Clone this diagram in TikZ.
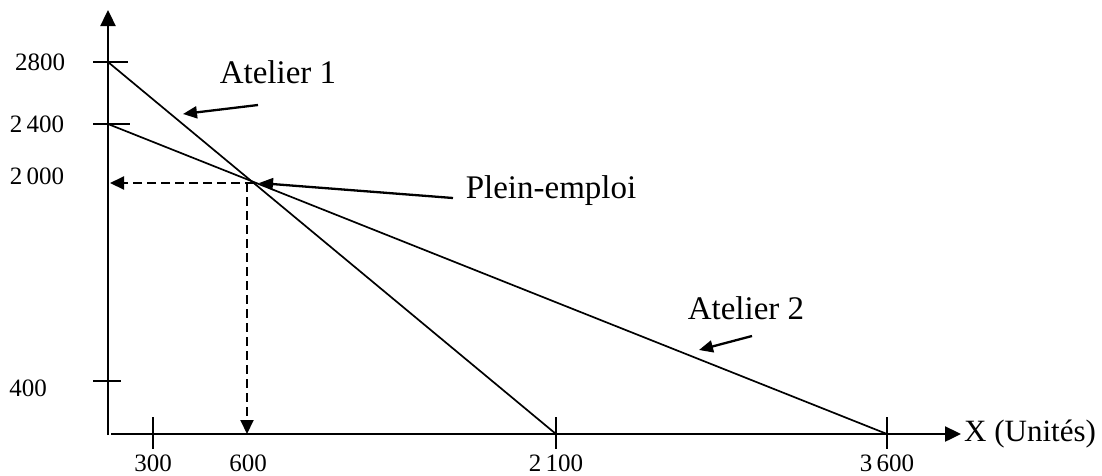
\documentclass[tikz,border=0pt]{standalone}
\usepackage{fontspec}
\setmainfont{Liberation Serif}
\usetikzlibrary{arrows.meta}
\begin{document}
\begin{tikzpicture}[x=1pt,y=-1pt,
  axis/.style={line width=2.4pt,-{Triangle[length=16pt,width=15pt]}},
  curve/.style={line width=1.7pt},
  tick/.style={line width=1.7pt},
  guide/.style={line width=2pt,dash pattern=on 9pt off 5pt,-{Triangle[length=14pt,width=13pt]}},
  pointer/.style={line width=2.3pt,-{Triangle[length=14pt,width=12pt]}},
  num/.style={font=\fontsize{25}{25}\selectfont,inner sep=0pt},
  lab/.style={font=\fontsize{33}{33}\selectfont,inner sep=0pt}]
\useasboundingbox (0,0) rectangle (1102,475);
% key points
\coordinate (O) at (108,435);
\coordinate (Ytop) at (108,10);
\coordinate (Xs) at (111,434);
\coordinate (Xend) at (961,434);
\coordinate (A1y) at (108,62);
\coordinate (A1x) at (556,434);
\coordinate (A2y) at (108,124);
\coordinate (A2x) at (887,434);
\coordinate (P) at (254,183);
\coordinate (Pv) at (247,183);
\coordinate (Hy) at (110,183);
\coordinate (Hx) at (247,434);
% axes
\draw[axis] (O) -- (Ytop);
\draw[axis] (Xs) -- (Xend);
% y ticks
\draw[tick] (93,62) -- (128,62);
\draw[tick] (93,124) -- (130,124);
\draw[tick] (93,381) -- (121,381);
% x ticks
\draw[tick] (153,417) -- (153,449);
\draw[tick] (556,417) -- (556,449);
\draw[tick] (887,417) -- (887,449);
% lines
\draw[curve] (A1y) -- (A1x);
\draw[curve] (A2y) -- (A2x);
% guides
\draw[guide] (P) -- (Hy);
\draw[guide] (Pv) -- (Hx);
% labels
\node[num] (l2800) at (40,62) {2800};
\node[num] (l2400) at (37,124) {2\,400};
\node[num] (l2000) at (37,176) {2\,000};
\node[num] (l400) at (28,388) {400};
\node[num] (l300) at (153,463) {300};
\node[num] (l600) at (248,463) {600};
\node[num] (l2100) at (556,463) {2\,100};
\node[num] (l3600) at (887,463) {3\,600};
\node[lab,anchor=west,font=\fontsize{31}{31}\selectfont] (xlab) at (964,434) {X (Unités)};
\node[lab] (at1) at (278,72) {Atelier 1};
\node[lab] (pe) at (551,191) {Plein-emploi};
\node[lab] (at2) at (746,308) {Atelier 2};
% pointers
\coordinate (p1s) at (258,105);
\coordinate (p1e) at (183,114);
\coordinate (p2s) at (453,198);
\coordinate (p2e) at (259,183);
\coordinate (p3s) at (752,336);
\coordinate (p3e) at (699,350);
\draw[pointer] (p1s) -- (p1e);
\draw[pointer] (p2s) -- (p2e);
\draw[pointer] (p3s) -- (p3e);
\end{tikzpicture}
\end{document}
